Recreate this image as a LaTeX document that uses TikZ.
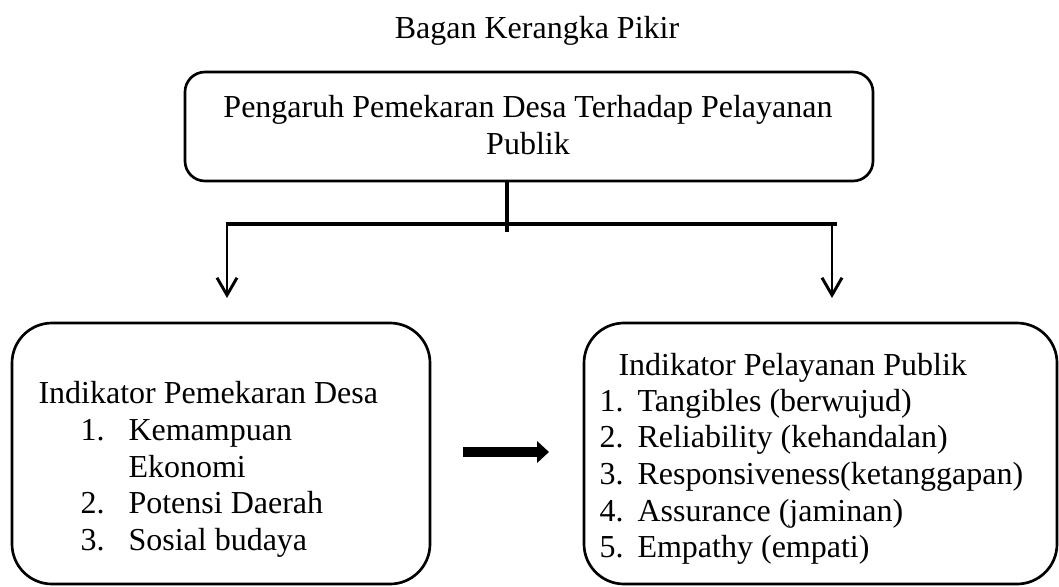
\documentclass[tikz,border=0pt]{standalone}
\usepackage{fontspec}
\setmainfont{Liberation Serif}
\usetikzlibrary{arrows.meta,fit}

\begin{document}
\begin{tikzpicture}[x=0.375pt,y=-0.375pt,>={Straight Barb[length=6.5pt,width=7.5pt]}]
\tikzset{
  box/.style={draw,line width=1pt,inner sep=0pt,rounded corners=#1},
  txt/.style={inner sep=0pt,font=\fontsize{12pt}{13.8pt}\selectfont},
  tebal/.style={line width=1.5pt},
}
\useasboundingbox (0,0) rectangle (1059,586);

% Title
\node[txt,anchor=base] (judul) at (537,38) {Bagan Kerangka Pikir};

% Top box
\node[box=7.5pt,fit={(185,72) (873,181)}] (pengaruh) {};
\node[txt,anchor=base] (pengaruh1) at (528,117)
    {Pengaruh Pemekaran Desa Terhadap Pelayanan};
\node[txt,anchor=base] (pengaruh2) at (528,154) {Publik};

% Branch
\coordinate (cabang) at (507,232);
\coordinate (kiri) at (226,224);
\coordinate (kanan) at (837,224);
\coordinate (panahkiri) at (227,298);
\coordinate (panahkanan) at (832,298);
\draw[tebal] (pengaruh.south -| cabang) -- (cabang);
\draw[tebal] (kiri) -- (kanan);
\draw[->,line width=1.1pt] (kiri -| panahkiri) -- (panahkiri);
\draw[->,line width=1.1pt] (kanan -| panahkanan) -- (panahkanan);

% Lower boxes
\node[box=15pt,fit={(12,323) (430,584)}] (pemekaran) {};
\node[box=15pt,fit={(584,323) (1057,584)}] (pelayanan) {};

% Left list
\node[txt,anchor=base west] (judulkiri) at (38,403) {Indikator Pemekaran Desa};
\node[txt,anchor=base west] (nokiri1) at (80,440) {1.};
\node[txt,anchor=base west] (isikiri1) at (128,440) {Kemampuan};
\node[txt,anchor=base west] (isikiri1b) at (128,477) {Ekonomi};
\node[txt,anchor=base west] (nokiri2) at (80,513) {2.};
\node[txt,anchor=base west] (isikiri2) at (128,513) {Potensi Daerah};
\node[txt,anchor=base west] (nokiri3) at (80,550) {3.};
\node[txt,anchor=base west] (isikiri3) at (128,550) {Sosial budaya};

% Middle arrow
\coordinate (tengah1) at (463,452);
\coordinate (tengah2) at (549,452);
\draw[line width=3.75pt,-{Triangle[length=4.5pt,width=8pt]}] (tengah1) -- (tengah2);

% Right list
\node[txt,anchor=base west] (judulkanan) at (618,375) {Indikator Pelayanan Publik};
\foreach \no/\isi [count=\i from 0] in {1./Tangibles (berwujud),
    2./Reliability (kehandalan), 3./Responsiveness(ketanggapan),
    4./Assurance (jaminan), 5./Empathy (empati)}{
    \node[txt,anchor=base west] (nokanan\i) at (599,{411+36.7*\i}) {\no};
    \node[txt,anchor=base west] (isikanan\i) at (637,{411+36.7*\i}) {\isi};
}

\end{tikzpicture}
\end{document}
